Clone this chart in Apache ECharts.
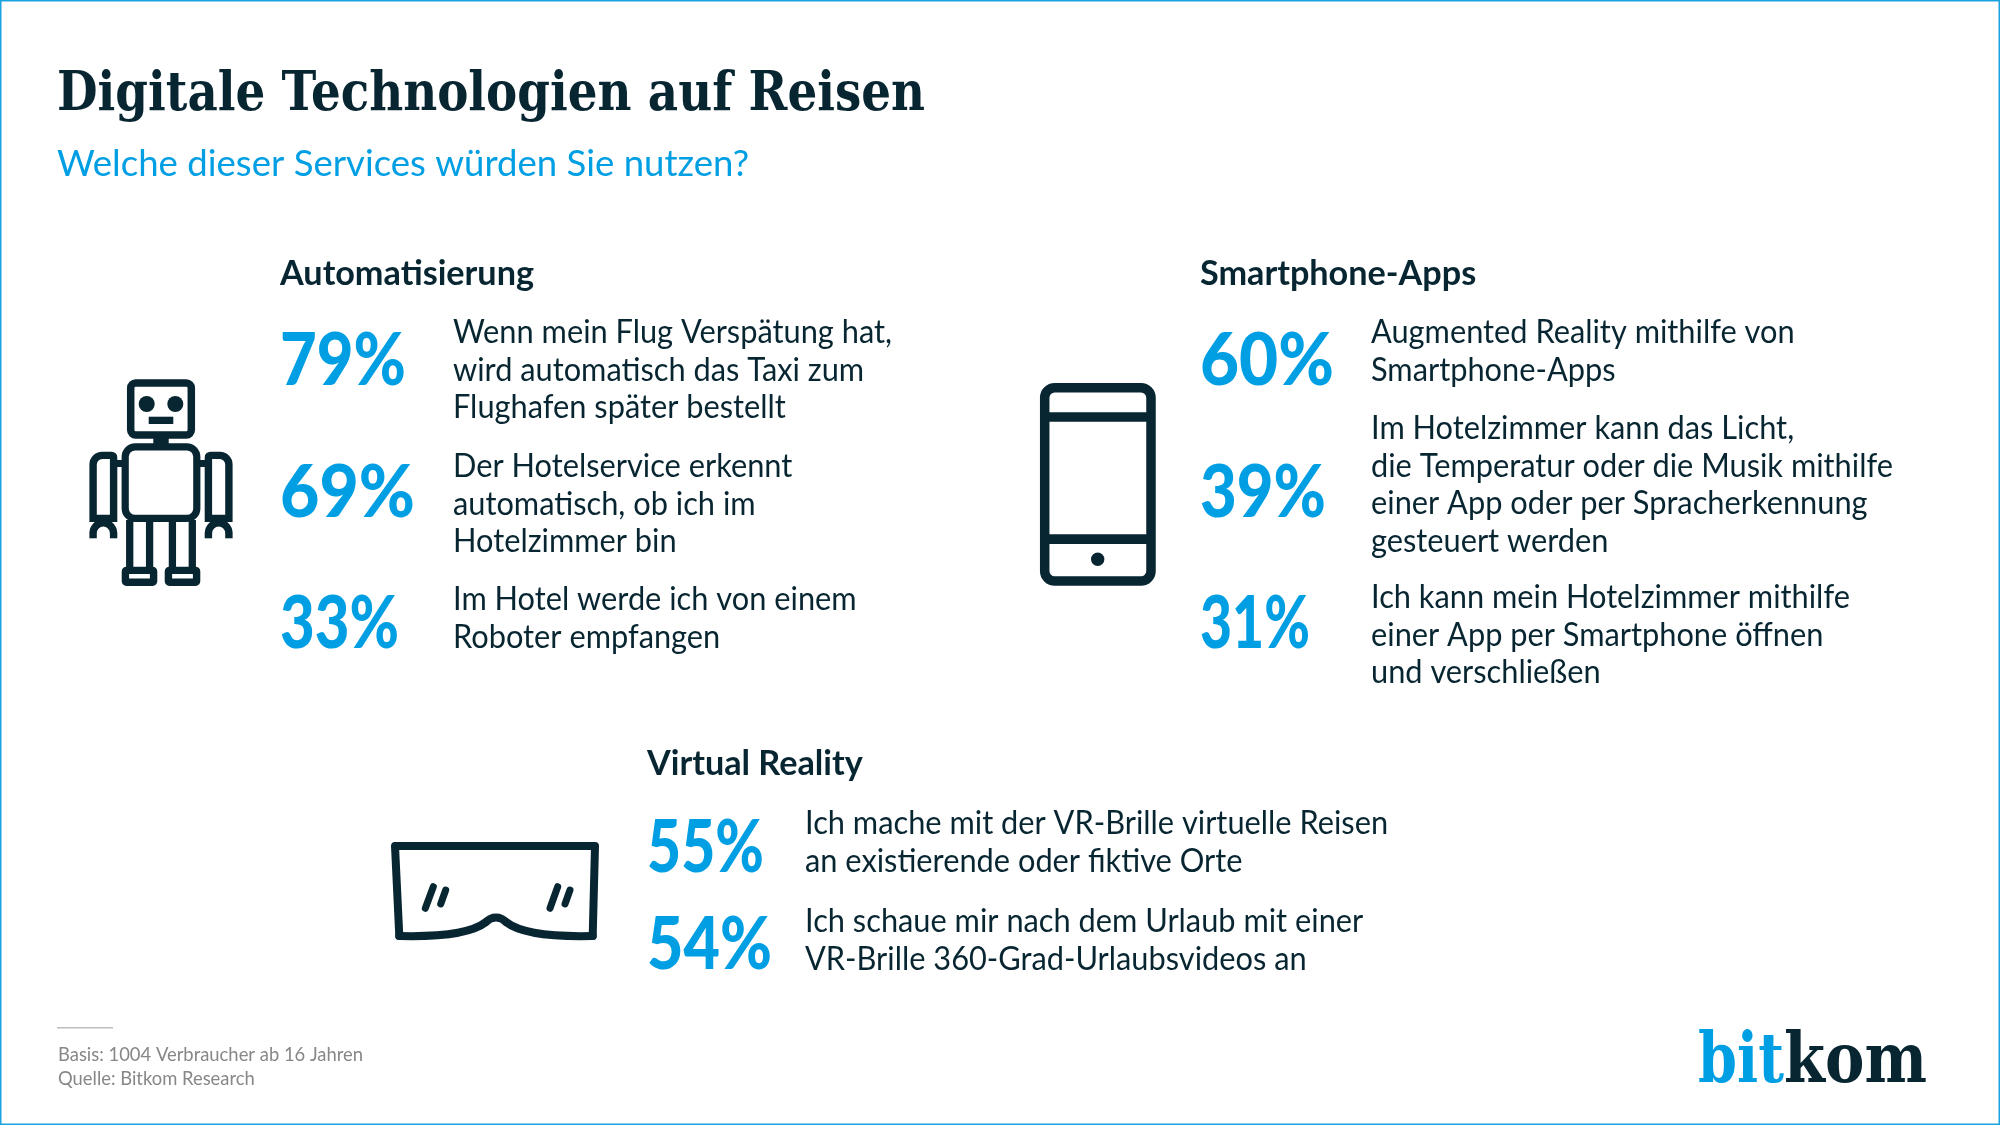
<!DOCTYPE html>
<html>
<head>
<meta charset="utf-8">
<title>Digitale Technologien auf Reisen</title>
<script src="https://cdn.jsdelivr.net/npm/echarts@6/dist/echarts.min.js"></script>
<style>
html, body { margin: 0; padding: 0; background: #fff; }
#chart { width: 2000px; height: 1125px; }
</style>
</head>
<body>
<div id="chart"></div>
<script>
const titleText = 'Digitale Technologien auf Reisen';
const subtitleText = 'Welche dieser Services würden Sie nutzen?';
const groupNames = ['Automatisierung', 'Smartphone-Apps', 'Virtual Reality'];

const autoValues = [79, 69, 33];
const appValues = [60, 39, 31];
const vrValues = [55, 54];

const autoLabels = [
	['Wenn mein Flug Verspätung hat,', 'wird automatisch das Taxi zum', 'Flughafen später bestellt'],
	['Der Hotelservice erkennt', 'automatisch, ob ich im', 'Hotelzimmer bin'],
	['Im Hotel werde ich von einem', 'Roboter empfangen']
];
const appLabels = [
	['Augmented Reality mithilfe von', 'Smartphone-Apps'],
	['Im Hotelzimmer kann das Licht,', 'die Temperatur oder die Musik mithilfe', 'einer App oder per Spracherkennung', 'gesteuert werden'],
	['Ich kann mein Hotelzimmer mithilfe', 'einer App per Smartphone öffnen', 'und verschließen']
];
const vrLabels = [
	['Ich mache mit der VR-Brille virtuelle Reisen', 'an existierende oder fiktive Orte'],
	['Ich schaue mir nach dem Urlaub mit einer', 'VR-Brille 360-Grad-Urlaubsvideos an']
];
const footerLines = ['Basis: 1004 Verbraucher ab 16 Jahren', 'Quelle: Bitkom Research'];

// colours
const dark = '#082631';
const blue = '#009fe3';
const grey = '#878787';

// layout of the three blocks, baselines in px
const blocks = [
	{ name: groupNames[0], values: autoValues, labels: autoLabels, x: 280, textX: 453, head: 285,
		pct: [385, 517, 648], pctW: [126, 135, 119], lines: [343, 477, 610] },
	{ name: groupNames[1], values: appValues, labels: appLabels, x: 1200, textX: 1371, head: 285,
		pct: [385, 517, 648], pctW: [134, 126, 110], lines: [343, 439, 608] },
	{ name: groupNames[2], values: vrValues, labels: vrLabels, x: 647, textX: 805, head: 775,
		pct: [872, 969], pctW: [117, 125], lines: [834, 932] }
];
const lineStep = 37.5;

// the fonts here are not the original ones, so squeeze each style to the original width
const ctx = document.createElement('canvas').getContext('2d');
function fit(str, font, width) {
	ctx.font = font;
	return width / ctx.measureText(str).width;
}
// zrender draws with a middle baseline, this is the distance from it down to the alphabetic one
function baseShift(font) {
	ctx.font = font;
	const m = ctx.measureText('x');
	return (m.fontBoundingBoxAscent - m.fontBoundingBoxDescent) / 2 - 0.07 * parseFloat(font.match(/(\d+)px/)[1]);
}

const sans = 'Lato';
const slab = '"DejaVu Serif"';
const pctFont = '900 72px ' + sans;
const styles = {
	title: { font: 'bold 55px ' + slab, fill: dark, sx: fit(titleText, 'bold 55px ' + slab, 868) },
	sub: { font: '37px ' + sans, fill: blue, sx: fit(subtitleText, '37px ' + sans, 692) },
	head: { font: 'bold 35px ' + sans, fill: dark, sx: fit(groupNames[0], 'bold 35px ' + sans, 254) },
	pct: { font: pctFont, fill: blue, sx: 1 },
	body: { font: '32px ' + sans, fill: dark, sx: fit(autoLabels[0][0], '32px ' + sans, 439) },
	foot: { font: '19px ' + sans, fill: grey, sx: fit(footerLines[0], '19px ' + sans, 305) }
};

function text(x, baseline, str, st, sx) {
	return {
		type: 'text', x: x, y: baseline - baseShift(st.font), scaleX: sx || st.sx, silent: true,
		style: { text: str, font: st.font, fill: st.fill, verticalAlign: 'middle' }
	};
}

function strokeStyle(w, cap) {
	return { stroke: dark, lineWidth: w, fill: 'none', lineCap: cap || 'butt' };
}
function box(x1, y1, x2, y2, r, w) {
	return { type: 'rect', shape: { x: x1, y: y1, width: x2 - x1, height: y2 - y1, r: r }, style: strokeStyle(w) };
}
function bar(x1, y1, x2, y2) {
	return { type: 'rect', shape: { x: x1, y: y1, width: x2 - x1, height: y2 - y1 }, style: { fill: dark } };
}
function line(x1, y1, x2, y2, w, cap) {
	return { type: 'line', shape: { x1: x1, y1: y1, x2: x2, y2: y2 }, style: strokeStyle(w, cap) };
}
function dot(cx, cy, r) {
	return { type: 'circle', shape: { cx: cx, cy: cy, r: r }, style: { fill: dark } };
}
function curve(x1, y1, c1x, c1y, c2x, c2y, x2, y2, w) {
	return {
		type: 'bezierCurve',
		shape: { x1: x1, y1: y1, cpx1: c1x, cpy1: c1y, cpx2: c2x, cpy2: c2y, x2: x2, y2: y2 },
		style: strokeStyle(w, 'round')
	};
}

function robotIcon() {
	const els = [
		box(130.7, 383, 191.3, 435, 5, 7.5),
		dot(146.7, 404, 8),
		dot(175.3, 404, 8),
		bar(148.7, 416.7, 173.3, 424),
		bar(153.3, 438, 168.7, 446),
		box(125.2, 446.8, 196.8, 518.4, 10, 7.2)
	];
	// left and right limbs are mirrored around the body axis
	[0, 1].forEach(function (side) {
		const m = function (x) { return side ? 322 - x : x; };
		const a = m(93.1), b = m(113.6);
		els.push(
			box(Math.min(a, b), 455.4, Math.max(a, b), 518.4, side ? [2, 9, 0, 0] : [9, 2, 0, 0], 7.4),
			bar(Math.min(m(117), m(122)), 460, Math.max(m(117), m(122)), 467),
			{ type: 'arc', shape: { cx: m(103.3), cy: 533, r: 10.2, startAngle: Math.PI, endAngle: Math.PI * 2 }, style: strokeStyle(7.4) },
			line(a, 532.5, a, 538.3, 7.4),
			line(b, 532.5, b, 538.3, 7.4),
			line(m(129.7), 520, m(129.7), 570, 7.3),
			line(m(149.6), 520, m(149.6), 570, 7.3),
			box(Math.min(m(125.4), m(153.6)), 570.4, Math.max(m(125.4), m(153.6)), 582.3, 1, 7.4)
		);
	});
	return els;
}

function phoneIcon() {
	return [
		box(1044.7, 387.8, 1151, 581, 10, 9.5),
		bar(1042, 412.3, 1153, 421.7),
		bar(1042, 534.3, 1153, 544),
		dot(1097.7, 559.3, 6.7)
	];
}

function vrIcon() {
	const w = 8;
	return [
		{ type: 'polyline', shape: { points: [[399.3, 936], [395, 846], [595, 846], [592.7, 936]] },
			style: Object.assign(strokeStyle(w, 'round'), { lineJoin: 'round' }) },
		curve(399.3, 936, 440, 937, 472, 933, 486, 922, w),
		curve(486, 922, 492, 916, 500, 916, 506, 922, w),
		curve(506, 922, 520, 933, 552, 937, 592.7, 936, w),
		line(433.3, 886.7, 425.3, 908.3, 7, 'round'),
		line(445.7, 890, 440.7, 904, 7, 'round'),
		line(557.7, 886.7, 550, 908.3, 7, 'round'),
		line(570, 890, 565, 904, 7, 'round')
	];
}

const elements = [
	{ type: 'rect', shape: { x: 0.75, y: 0.75, width: 1998.5, height: 1123.5 }, style: { fill: 'none', stroke: '#1ba3e0', lineWidth: 1.5 }, silent: true },
	text(57, 111, titleText, styles.title),
	text(57, 176, subtitleText, styles.sub),
	{ type: 'rect', shape: { x: 57, y: 1027, width: 56, height: 1.6 }, style: { fill: '#bdbdbd' } },
	text(58, 1061, footerLines[0], styles.foot),
	text(58, 1085, footerLines[1], styles.foot)
];

blocks.forEach(function (b) {
	elements.push(text(b.x, b.head, b.name, styles.head));
	b.labels.forEach(function (rows, i) {
		rows.forEach(function (row, j) {
			elements.push(text(b.textX, b.lines[i] + j * lineStep, row, styles.body));
		});
	});
});

// logo
const logoFont = 'bold 70px ' + slab;
elements.push(
	text(1698, 1083, 'bit', { font: logoFont, fill: blue }, fit('bit', logoFont, 86)),
	text(1784, 1083, 'kom', { font: logoFont, fill: dark }, fit('kom', logoFont, 143))
);

robotIcon().concat(phoneIcon(), vrIcon()).forEach(function (el) {
	el.silent = true;
	elements.push(el);
});

const chart = echarts.init(document.getElementById('chart'));
chart.setOption({
	animation: false,
	backgroundColor: '#fff',
	grid: { left: 0, right: 0, top: 0, bottom: 0 },
	xAxis: { type: 'value', min: 0, max: 2000, show: false },
	yAxis: { type: 'value', min: 0, max: 1125, inverse: true, show: false },
	graphic: { elements: elements },
	series: blocks.map(function (b) {
		return {
			type: 'custom',
			name: b.name,
			coordinateSystem: 'cartesian2d',
			silent: true,
			data: b.values.map(function (v, i) { return [b.x, b.pct[i], v]; }),
			renderItem: function (params, api) {
				const p = api.coord([api.value(0), api.value(1)]);
				const label = api.value(2) + '%';
				return text(p[0], p[1], label, styles.pct, fit(label, pctFont, b.pctW[params.dataIndex]));
			}
		};
	})
});
</script>
</body>
</html>
